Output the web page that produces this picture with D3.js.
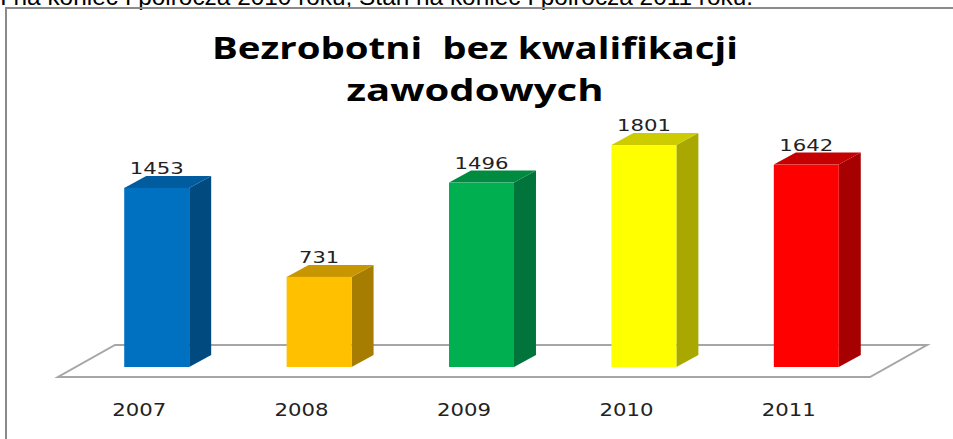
<!DOCTYPE html>
<html><head><meta charset="utf-8">
<script src="https://cdn.jsdelivr.net/npm/d3@7"></script>
<style>html,body{margin:0;padding:0;background:#fff;overflow:hidden} text{white-space:pre}</style>
</head><body>
<svg id="c" width="953" height="439"></svg>
<script>
const categories = ["2007","2008","2009","2010","2011"];
const values = [1453, 731, 1496, 1801, 1642];
const frontColors = ["#0070C0","#FFC000","#00B050","#FFFF00","#FF0000"];
const sideColors = ["#004A80","#A67D00","#00743A","#A8A800","#A60000"];
const topColors = ["#005C9E","#C79600","#008B40","#CCCC00","#C40000"];
const titleLines = ["Bezrobotni  bez kwalifikacji","zawodowych"];
const headerText = "I na koniec I półrocza 2010 roku; Stan na koniec I półrocza 2011 roku.";

const svg = d3.select("#c");

// header text (cut off at the top, as in the reference)
svg.append("text").attr("x",0).attr("y",5)
  .attr("font-family","Liberation Sans, Arial").attr("font-size",24).attr("fill","#000")
  .attr("textLength",753).attr("lengthAdjust","spacingAndGlyphs")
  .text(headerText);

// frame
svg.append("path").attr("d","M6,439 V8 H953").attr("fill","none")
  .attr("stroke","#8a8a8a").attr("stroke-width",2);

// title
const titleY=[59,101], titleW=[526,257];
titleLines.forEach((t,i)=>{
  svg.append("text").attr("x",475).attr("y",titleY[i]).attr("text-anchor","middle")
    .attr("font-family","Open Sans, sans-serif").attr("font-weight",700).attr("font-size",31)
    .attr("textLength",titleW[i]).attr("lengthAdjust","spacingAndGlyphs")
    .attr("fill","#000").text(t);
});

// scales
const floorFrontY=377, floorDX=57, floorDY=-32;
const x = d3.scaleBand().domain(categories).range([58,870]).padding(0);
const y = d3.scaleLinear().domain([0,1801]).range([367,145]);
const bw = x.bandwidth()*0.4;
const shift = 17.5;
const ddx=22, ddy=-12;

// floor
const fx0=x.range()[0], fx1=x.range()[1];
svg.append("path")
  .attr("d",`M${fx0},${floorFrontY} L${fx1},${floorFrontY} L${fx1+floorDX},${floorFrontY+floorDY} L${fx0+floorDX},${floorFrontY+floorDY} Z`)
  .attr("fill","#fff").attr("stroke","#a6a6a6").attr("stroke-width",2);

// bars
categories.forEach((c,i)=>{
  const cx = x(c)+x.bandwidth()/2+shift;
  const x0 = cx-bw/2, x1=cx+bw/2;
  const y0=y(0), y1=y(values[i]);
  const g=svg.append("g");
  g.append("path").attr("d",`M${x1},${y0} L${x1+ddx},${y0+ddy} L${x1+ddx},${y1+ddy} L${x1},${y1} Z`).attr("fill",sideColors[i]);
  g.append("path").attr("d",`M${x0},${y1} L${x1},${y1} L${x1+ddx},${y1+ddy} L${x0+ddx},${y1+ddy} Z`).attr("fill",topColors[i]);
  g.append("rect").attr("x",x0).attr("y",y1).attr("width",bw).attr("height",y0-y1).attr("fill",frontColors[i]);
  svg.append("text").attr("x",cx).attr("y",y1-14).attr("text-anchor","middle")
    .attr("font-family","DejaVu Sans, Verdana").attr("font-size",16).attr("fill","#222")
    .attr("textLength",values[i]>=1000?54:40).attr("lengthAdjust","spacingAndGlyphs")
    .text(values[i]);
});

// category labels
categories.forEach(c=>{
  svg.append("text").attr("x",x(c)+x.bandwidth()/2).attr("y",416).attr("text-anchor","middle")
    .attr("font-family","DejaVu Sans, Verdana").attr("font-size",18).attr("fill","#222")
    .attr("textLength",54).attr("lengthAdjust","spacingAndGlyphs").text(c);
});
</script>
</body></html>
